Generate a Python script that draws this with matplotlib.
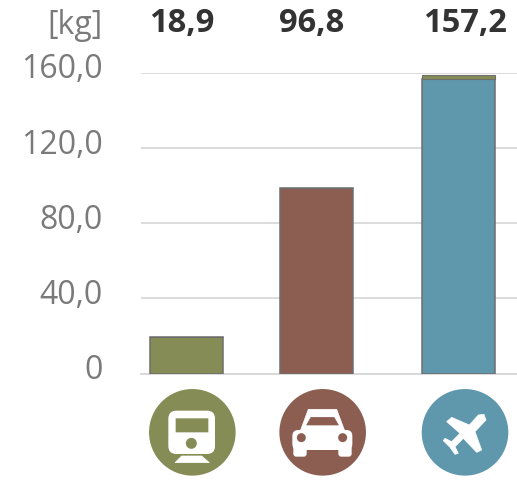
import matplotlib
matplotlib.use("Agg")
import matplotlib.pyplot as plt
from matplotlib.patches import Circle, FancyBboxPatch, Polygon
from matplotlib.transforms import ScaledTranslation

plt.rcParams['font.family'] = ['Open Sans', 'DejaVu Sans']

W, H = 517, 482
positions = [0, 1, 2.09]
main_values = [19.3, 98.7, 156.6]
top_values = [0, 0, 2.2]
value_labels = ["18,9", "96,8", "157,2"]
yticks = [0, 40, 80, 120, 160]
ytick_labels = ["0", "40,0", "80,0", "120,0", "160,0"]
bar_colors = ["#858C55", "#8C5E52", "#5F97AD"]
OLIVE, BROWN, BLUE = bar_colors

fig = plt.figure(figsize=(W / 100, H / 100), dpi=100)
fig.patch.set_facecolor("white")

# axes box lined up with the gridlines in the picture
left, right, y0, y160 = 141, 517, 373.5, 73
ax = fig.add_axes([left / W, 1 - y0 / H, (right - left) / W, (y0 - y160) / H])
ax.set_ylim(0, 160)
step = 130
ax.set_xlim((left - 186.5) / step, (right - 186.5) / step)

ax.bar(positions, main_values, width=73 / step, color=bar_colors,
       edgecolor="#6e6e6e", linewidth=1.1, zorder=3)
ax.bar(positions, top_values, width=73 / step, bottom=main_values, color=OLIVE,
       edgecolor="#6e6e6e", linewidth=0.8, zorder=3)

ax.set_yticks(yticks)
ax.set_yticklabels(ytick_labels, fontsize=23, color="#7a7a7a")
ax.set_xticks([])
ax.tick_params(axis="y", length=0, pad=27.4)
# labels sit a bit above their gridlines in the original
for t in ax.get_yticklabels():
    t.set_transform(t.get_transform() + ScaledTranslation(0, 7 / 100, fig.dpi_scale_trans))
ax.grid(axis="y", color="#dcdcdc", linewidth=1.4, zorder=0)
ax.set_axisbelow(True)
for s in ax.spines.values():
    s.set_visible(False)
ax.spines["bottom"].set_visible(True)
ax.spines["bottom"].set_color("#d9d9d9")
ax.spines["bottom"].set_linewidth(1.4)

# pixel overlay for header text and the icons
ov = fig.add_axes([0, 0, 1, 1], zorder=5)
ov.set_xlim(0, W)
ov.set_ylim(H, 0)
ov.axis("off")

ov.text(103, 25, "[kg]", ha="right", va="center", fontsize=23, color="#7a7a7a")
for x, lab in zip([182, 312, 465], value_labels):
    ov.text(x, 23, lab, ha="center", va="center", fontsize=23.5, fontweight="bold", color="#333333")


def z(x, y):
    return 130 + x / 3, 370 + y / 3


def poly(points, color):
    ov.add_patch(Polygon([z(*p) for p in points], closed=True, fc=color, ec=color, lw=0.5))


def box(x1, y1, x2, y2, r, color):
    a, b = z(x1, y1)
    c, d = z(x2, y2)
    ov.add_patch(FancyBboxPatch((a + r, b + r), c - a - 2 * r, d - b - 2 * r,
                                boxstyle=f"round,pad={r}", fc=color, ec="none"))


def dot(x, y, r, color):
    ov.add_patch(Circle(z(x, y), r, fc=color, ec="none"))


dot(187, 187, 43.3, OLIVE)
dot(578, 187, 43.3, BROWN)
dot(1005, 187, 43.3, BLUE)

# train
box(115, 122, 255, 252, 8, "white")
box(137, 145, 235, 187, 0.1, OLIVE)
dot(184, 220, 5.5, OLIVE)
poly([(155, 258), (215, 258), (238, 278), (135, 278)], "white")

# car
poly([(535, 118), (620, 118), (645, 185), (510, 185)], "white")
box(487, 180, 667, 240, 6, "white")
box(490, 225, 530, 260, 3, "white")
box(625, 225, 665, 260, 3, "white")
poly([(543, 142), (612, 142), (625, 165), (530, 165)], BROWN)
dot(514, 203, 4.5, BROWN)
dot(638, 203, 4.5, BROWN)

# plane
poly([(1062, 133), (1068, 150), (1035, 185), (1055, 240), (1040, 247), (1000, 205),
      (975, 230), (985, 250), (975, 253), (960, 232), (940, 212), (945, 205),
      (965, 215), (990, 190), (950, 155), (965, 142), (1018, 165), (1045, 135)], "white")

fig.savefig("out.png", dpi=100)
